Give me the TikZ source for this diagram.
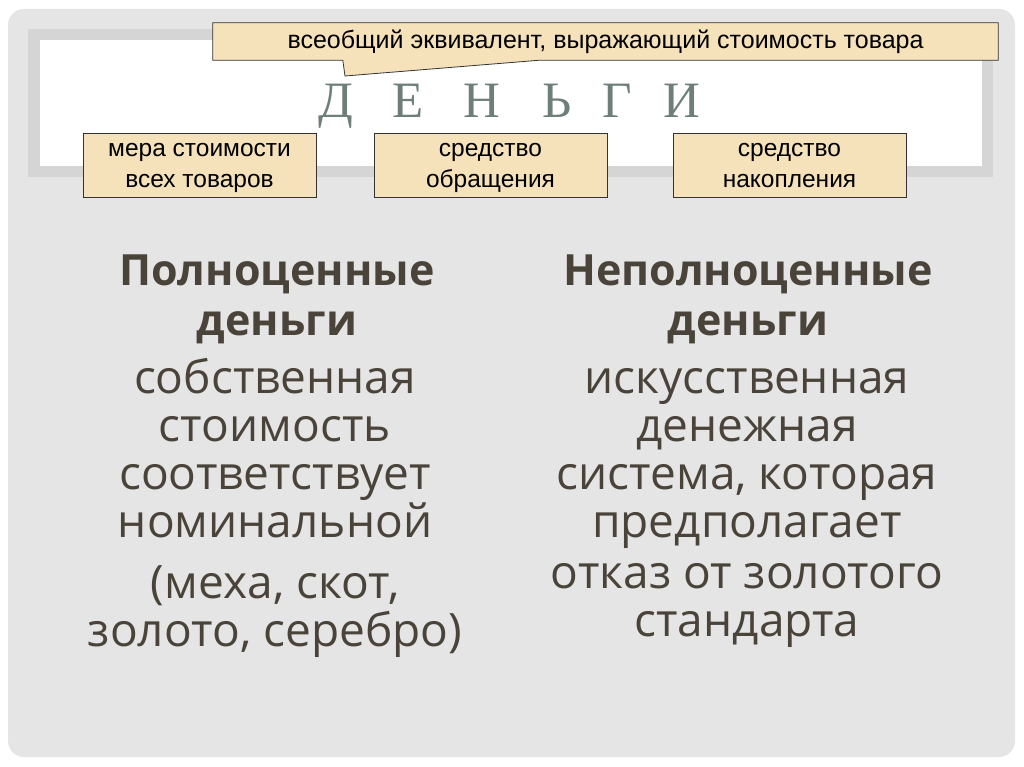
\documentclass[tikz,border=0pt]{standalone}
\usepackage{fontspec}
\setmainfont{Liberation Sans}
\newfontfamily\gothfont{Open Sans}
\newfontfamily\titlefont{Liberation Serif}
\usetikzlibrary{positioning,calc,backgrounds}

\definecolor{boxfill}{RGB}{245,226,186}
\definecolor{panelgray}{RGB}{229,229,229}
\definecolor{framegray}{RGB}{213,213,213}
\definecolor{titlegreen}{RGB}{110,126,120}
\definecolor{textbrown}{RGB}{74,67,58}

% fixed line heights, so that the text sits the same in every node
\newcommand{\tallstrut}[1]{\rule{0pt}{#1}}
\newcommand{\deepstrut}[1]{\rule[-#1]{0pt}{#1}}

\begin{document}
\begin{tikzpicture}
	[
		x=1pt, y=-1pt,
		role/.style={draw=black!80, line width=0.8pt, fill=boxfill, align=center, minimum width=233pt, minimum height=64pt, inner sep=0pt, font=\fontsize{24.5}{31}\selectfont},
		callout/.style={draw=black!80, line width=0.8pt, fill=boxfill},
		letter/.style={anchor=base, inner sep=0pt, text=titlegreen, font=\titlefont\fontsize{51}{51}\selectfont},
		heading/.style={anchor=north, align=center, inner sep=0pt, text=textbrown, font=\gothfont\bfseries\fontsize{43}{50}\selectfont},
		body/.style={anchor=north, align=center, inner sep=0pt, text=textbrown, font=\gothfont\fontsize{46}{48}\selectfont}
	]

	\useasboundingbox (0,0) rectangle (1024,767);

	\begin{scope}[on background layer]
		\fill[panelgray, rounded corners=16pt] (8,9) rectangle (1015,757);
		\fill[framegray] (28,29) rectangle (993,177);
		\fill[white] (40,40) rectangle (982,166);
	\end{scope}

	% definition
	\node
	[minimum width=785pt, minimum height=37pt, inner sep=0pt, font=\fontsize{25}{28}\selectfont]
	(general) at (605.5,41.5)
	{всеобщий эквивалент, выражающий стоимость товара};

	\coordinate (tailtip) at (345,76);

	\begin{scope}[on background layer]
		\path[callout]
		(general.north west) -- (general.north east) -- (general.south east)
		-- ($(general.south west)+(327,0)$) -- (tailtip)
		-- ($(general.south west)+(130,0)$) -- (general.south west) -- cycle;
	\end{scope}

	% title
	\foreach \l/\x [count=\i] in {Д/336, Е/408, Н/482, Ь/557, Г/617, И/682}
		\node[letter] (title\i) at (\x,118) {\l};

	% functions
	\node[role] (measure) at (199.5,165) {\tallstrut{24pt}мера стоимости\\всех товаров\deepstrut{9pt}};
	\node[role] (circulation) at (490.5,165) {\tallstrut{24pt}средство\\обращения\deepstrut{9pt}};
	\node[role] (saving) at (789.5,165) {\tallstrut{24pt}средство\\накопления\deepstrut{9pt}};

	% two kinds
	\node[heading] (full) at (277,252) {\tallstrut{33pt}Полноценные\\деньги};
	\node[heading] (fiat) at (748,252) {\tallstrut{33pt}Неполноценные\\деньги};

	\node[body] (fulltext) at (275,357) {\tallstrut{36pt}собственная\\стоимость\\соответствует\\номинальной};
	\node[body] (fullex) at (275,562) {\tallstrut{36pt}(меха, скот,\\золото, серебро)};

	\node[body] (fiattext) at (747,357) {\tallstrut{36pt}искусственная\\денежная\\система, которая\\предполагает};
	\node[body] (fiatex) at (747,552) {\tallstrut{36pt}отказ от золотого\\стандарта};

\end{tikzpicture}
\end{document}
